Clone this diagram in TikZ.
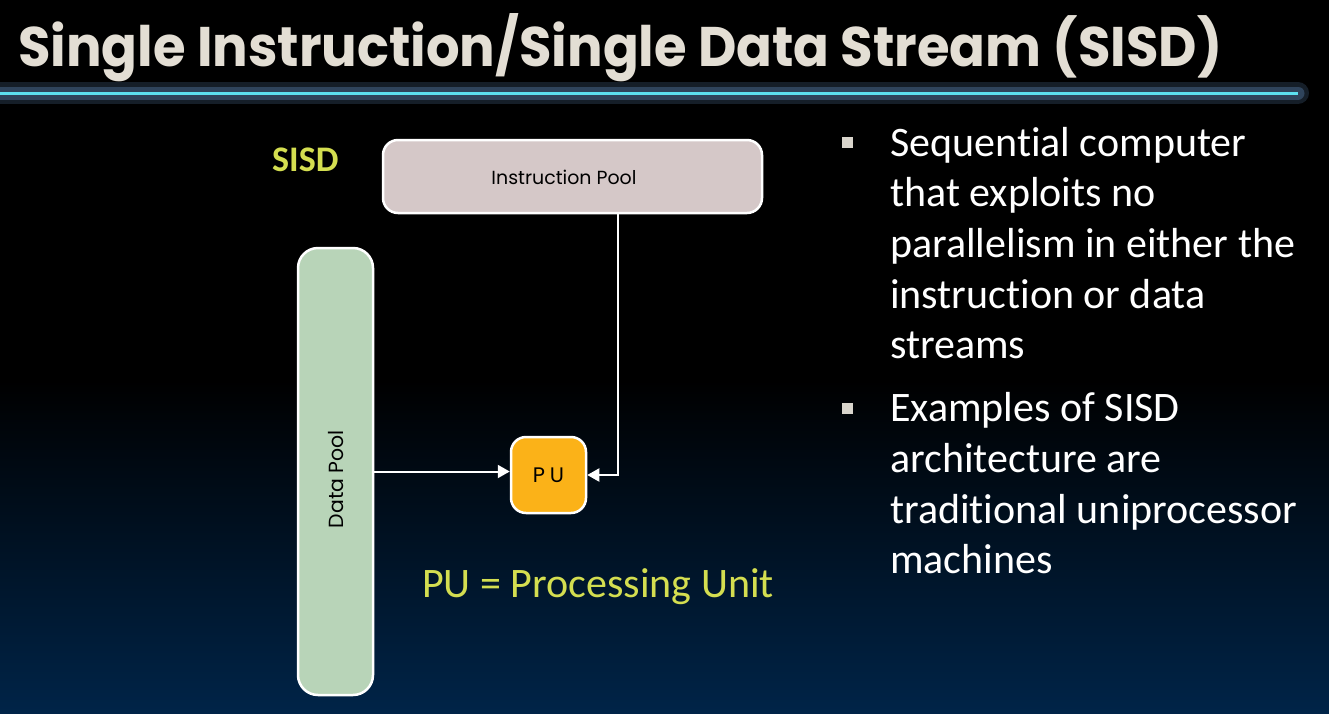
\documentclass[tikz,border=0pt]{standalone}
\usepackage{fontspec}
\usetikzlibrary{arrows.meta,calc}
\newfontfamily\poppins{Poppins}
\newfontfamily\carlito{Carlito}[RawFeature={-liga;-clig;-calt;-dlig}]
\definecolor{titlecol}{RGB}{227,222,212}
\definecolor{cyanline}{RGB}{92,224,240}
\definecolor{glowcol}{RGB}{70,100,135}
\definecolor{ipcol}{RGB}{213,200,200}
\definecolor{dpcol}{RGB}{184,212,184}
\definecolor{pucol}{RGB}{251,178,24}
\definecolor{ygreen}{RGB}{212,222,80}
\definecolor{bulletcol}{RGB}{217,213,204}
\definecolor{navy}{RGB}{0,36,72}
\tikzset{
  poolbox/.style={draw=white, line width=2.5pt, rounded corners=15pt, inner sep=0pt},
  arr/.style={draw=white, line width=2pt, -{Triangle[length=12pt,width=13pt]}},
  bodytext/.style={anchor=base west, inner sep=0pt, text=white, font=\carlito\fontsize{42}{50}\selectfont},
  sq/.style={fill=bulletcol, minimum size=11pt, inner sep=0pt},
}
\begin{document}
\begin{tikzpicture}[x=1pt,y=-1pt]
\useasboundingbox (0,0) rectangle (1329,713);
\fill[black] (0,0) rectangle (1329,713);
\shade[top color=black, bottom color=navy] (0,380) rectangle (1329,713);
% title
\node[anchor=base west, inner sep=0pt, text=titlecol] (title) at (18,66)
  {\resizebox{1204pt}{53pt}{\poppins\bfseries Single Instruction/Single Data Stream (SISD)}};
% glowing rule
\draw[glowcol, line width=22pt, opacity=0.3, line cap=round] (0,93) -- (1298,93);
\draw[glowcol, line width=13pt, opacity=0.55, line cap=round] (0,93) -- (1298,93);
\draw[cyanline, line width=3pt] (0,93) -- (1298,93);
% SISD label
\node[anchor=base west, inner sep=0pt, text=ygreen, font=\carlito\bfseries\fontsize{36}{40}\selectfont] (sisd) at (272,171) {SISD};
% boxes
\node[poolbox, fill=ipcol, minimum width=379pt, minimum height=73pt] (ip) at (572.5,176.5) {};
\node[text=black, inner sep=0pt] (iptext) at (564,177) {\resizebox{145pt}{!}{\poppins Instruction Pool}};
\node[poolbox, fill=dpcol, minimum width=75pt, minimum height=447pt, rounded corners=20pt] (dp) at (335.5,471.5) {};
\node[rotate=90, text=black, inner sep=0pt] (dptext) at (336,479) {\resizebox{98pt}{!}{\poppins Data Pool}};
\node[poolbox, fill=pucol, minimum width=75pt, minimum height=76pt] (pu) at (548.5,475)
  {\poppins\fontsize{21}{24}\selectfont P\hspace{5pt}U};
% connectors
\coordinate (ix) at (618,0);
\draw[arr] (dp.east) -- (dp.east -| pu.west);
\draw[arr] (ip.south -| ix) |- (pu.east);
% legend
\node[anchor=base west, inner sep=0pt, text=ygreen, font=\carlito\fontsize{42}{50}\selectfont] (legend) at (422,597) {PU = Processing Unit};
% bullets
\node[sq] (b1) at (847.5,142.5) {};
\node[sq] (b2) at (847.5,408) {};
\node[bodytext] (l1) at (890,156) {Sequent\kern0pt ial computer};
\node[bodytext] (l2) at (890,206) {that exploits no};
\node[bodytext] (l3) at (890,257) {parallelism in either the};
\node[bodytext] (l4) at (890,308) {instruct\kern0pt ion or data};
\node[bodytext] (l5) at (890,358) {streams};
\node[bodytext] (l6) at (890,421) {Examples of SISD};
\node[bodytext] (l7) at (890,472) {architecture are};
\node[bodytext] (l8) at (890,523) {traditional uniprocessor};
\node[bodytext] (l9) at (890,573) {machines};
\end{tikzpicture}
\end{document}
